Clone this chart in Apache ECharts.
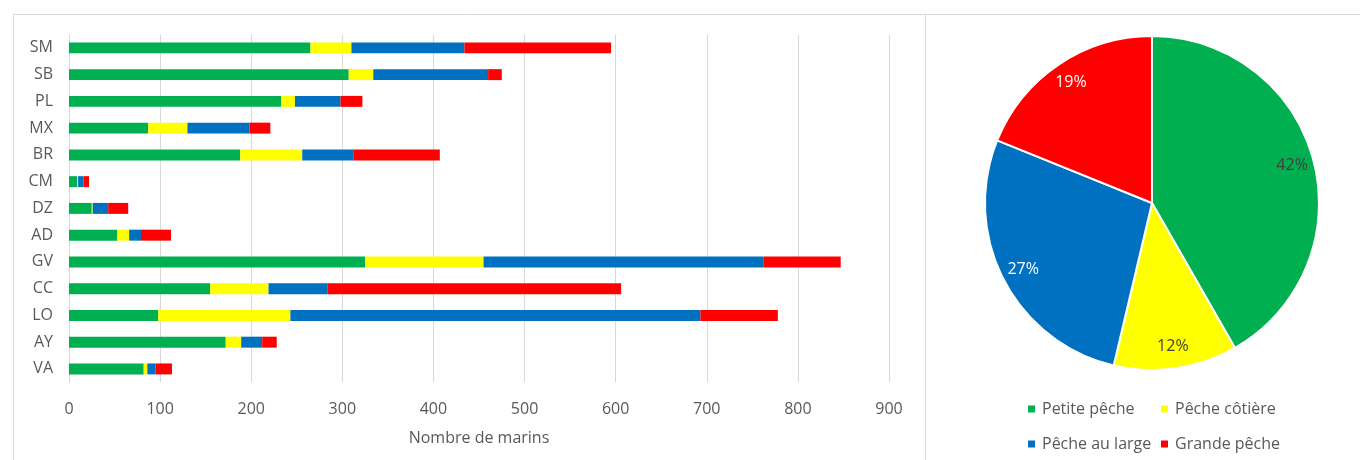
<!DOCTYPE html>
<html>
<head>
<meta charset="utf-8">
<script src="https://cdn.jsdelivr.net/npm/echarts@6/dist/echarts.min.js"></script>
<style>
html,body{margin:0;padding:0;background:#fff;}
#chart{width:1360px;height:460px;}
</style>
</head>
<body>
<div id="chart"></div>
<script>
const categories = ['SM','SB','PL','MX','BR','CM','DZ','AD','GV','CC','LO','AY','VA'];
const seriesNames = ['Petite pêche','Pêche côtière','Pêche au large','Grande pêche'];
const petitePeche  = [265, 307, 233, 87, 188, 9, 25, 53, 325, 155, 98, 172, 82];
const pecheCotiere = [45, 27, 15, 43, 68, 1, 1, 13, 130, 64, 145, 17, 4];
const pecheLarge   = [124, 126, 50, 68, 56, 6, 17, 13, 307, 65, 450, 23, 9];
const grandePeche  = [161, 15, 24, 23, 95, 6, 22, 33, 85, 322, 85, 16, 18];
const pieValues    = [1999, 573, 1314, 905];
const xTicks = { min: 0, max: 900, interval: 100 };
const colors = ['#00b050', '#ffff00', '#0070c0', '#ff0000'];
const pieLabelColors = ['#404040', '#404040', '#ffffff', '#ffffff'];

const FONT = 'Open Sans';
const TEXT = '#595959';
const barData = [petitePeche, pecheCotiere, pecheLarge, grandePeche];

const chart = echarts.init(document.getElementById('chart'), null, {renderer: 'canvas'});

const barSeries = seriesNames.map((name, i) => ({
  name: name,
  type: 'bar',
  stack: 'total',
  data: barData[i],
  itemStyle: { color: colors[i] },
  barCategoryGap: '59%',
  emphasis: { disabled: true }
}));

const pieData = seriesNames.map((name, i) => ({
  name: name,
  value: pieValues[i],
  itemStyle: { color: colors[i] },
  label: { color: pieLabelColors[i] }
}));

const legendCommon = {
  orient: 'vertical', top: 400, padding: 0, height: 60,
  icon: 'rect', itemWidth: 7, itemHeight: 7, itemGap: 17,
  textStyle: { color: TEXT, fontSize: 16, fontFamily: FONT, lineHeight: 18, padding: [0,0,0,2] },
  selectedMode: false
};

const option = {
  animation: false,
  backgroundColor: '#ffffff',
  textStyle: { fontFamily: FONT },
  graphic: [
    { type: 'rect', silent: true, shape: { x: 13.5, y: 14.5, width: 912, height: 500 },
      style: { fill: 'none', stroke: '#d9d9d9', lineWidth: 1 } },
    { type: 'rect', silent: true, shape: { x: 925.5, y: 14.5, width: 500, height: 500 },
      style: { fill: 'none', stroke: '#d9d9d9', lineWidth: 1 } }
  ],
  legend: [
    Object.assign({}, legendCommon, { left: 1028, data: [seriesNames[0], seriesNames[2]] }),
    Object.assign({}, legendCommon, { left: 1161, data: [seriesNames[1], seriesNames[3]] })
  ],
  grid: { left: 69, right: 471, top: 34.5, bottom: 77.7, containLabel: false },
  xAxis: {
    type: 'value',
    min: xTicks.min, max: xTicks.max, interval: xTicks.interval,
    name: 'Nombre de marins',
    nameLocation: 'middle',
    nameGap: 48,
    nameTextStyle: { color: TEXT, fontSize: 16, fontFamily: FONT },
    axisLine: { show: false },
    axisTick: { show: false },
    axisLabel: { color: TEXT, fontSize: 16, fontFamily: FONT, margin: 19 },
    splitLine: { show: true, lineStyle: { color: '#d9d9d9', width: 1 } }
  },
  yAxis: {
    type: 'category',
    data: categories,
    inverse: true,
    axisLine: { show: true, lineStyle: { color: '#d9d9d9', width: 1 } },
    axisTick: { show: false },
    axisLabel: { color: TEXT, fontSize: 16, fontFamily: FONT, margin: 16 },
    splitLine: { show: false }
  },
  series: barSeries.concat([
    {
      name: 'pie',
      type: 'pie',
      center: [1152, 203],
      radius: [0, 167],
      startAngle: 90,
      clockwise: true,
      data: pieData,
      label: { show: false },
      labelLine: { show: false },
      itemStyle: { borderColor: '#ffffff', borderWidth: 2 },
      emphasis: { disabled: true }
    },
    {
      name: 'pieLabels',
      type: 'pie',
      center: [1152, 203],
      radius: [117, 167],
      startAngle: 90,
      clockwise: true,
      silent: true,
      data: pieData.map(d => ({
        name: d.name, value: d.value,
        itemStyle: { color: 'rgba(0,0,0,0)' },
        label: { color: d.label.color }
      })),
      label: {
        show: true, position: 'inside', fontSize: 16, fontFamily: FONT,
        formatter: p => Math.round(p.percent) + '%'
      },
      labelLine: { show: false },
      itemStyle: { borderWidth: 0 },
      emphasis: { disabled: true }
    }
  ])
};

chart.setOption(option);
</script>
</body>
</html>
